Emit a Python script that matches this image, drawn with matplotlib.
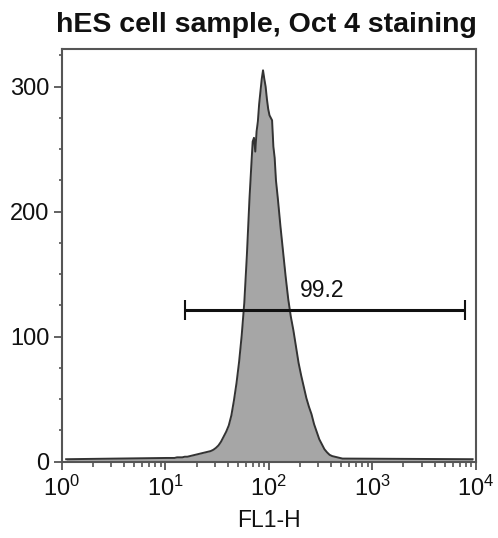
import matplotlib
matplotlib.use("Agg")
import matplotlib.pyplot as plt
from matplotlib.ticker import MultipleLocator, LogLocator, NullFormatter
import numpy as np

plt.rcParams['font.family'] = ['Liberation Sans', 'DejaVu Sans']
plt.rcParams['mathtext.fontset'] = 'custom'
plt.rcParams['mathtext.rm'] = 'Liberation Sans'
plt.rcParams['mathtext.it'] = 'Liberation Sans'

# histogram: bin edges (log10 of FL1-H) and counts
log_edges = [0.04, 1.0, 1.025, 1.05, 1.075, 1.1, 1.125, 1.15, 1.175, 1.2, 1.225,
             1.25, 1.275, 1.3, 1.325, 1.35, 1.375, 1.4, 1.425, 1.45, 1.475, 1.5,
             1.525, 1.55, 1.575, 1.6, 1.625, 1.65, 1.675, 1.7, 1.725, 1.75, 1.775,
             1.8, 1.825, 1.8375, 1.85, 1.8625, 1.875, 1.8875, 1.9, 1.9125, 1.925,
             1.9375, 1.95, 1.9625, 1.975, 1.9875, 2.0, 2.0125, 2.025, 2.0375, 2.05,
             2.0625, 2.075, 2.1, 2.125, 2.15, 2.175, 2.2, 2.225, 2.25, 2.275, 2.3,
             2.325, 2.35, 2.375, 2.4, 2.425, 2.45, 2.475, 2.5, 2.525, 2.55, 2.575,
             2.6, 2.625, 2.65, 2.675, 2.7, 2.725, 2.75, 3.97]
counts = [2,
          3, 3, 3, 3, 3.5, 3.5, 3.5, 4, 4, 4.5, 5, 5.5, 6, 6.5, 7, 7.5, 8, 8.5,
          9.5, 11, 13, 16, 20, 24, 29, 37, 49, 63, 80, 101, 127, 165, 210,
          238, 256, 259, 248, 264, 272, 286, 296, 306, 313, 306, 300, 290, 282,
          277, 275, 273, 252, 243, 225,
          210, 188, 168, 148, 130, 116, 105, 92, 79, 69, 60, 51, 44, 38, 30, 24,
          18, 14, 10, 7.5, 5.5, 4.5, 4, 3.5, 3, 2.5, 2.5,
          2]

gate_range = [15.6, 7870]
gate_y = 121
gate_label = "99.2"
gate_label_pos = [330, 137]

title = "hES cell sample, Oct 4 staining"
xlabel = "FL1-H"
yticks = [0, 100, 200, 300]

fig = plt.figure(figsize=(4.98, 5.38), dpi=100)
ax = fig.add_axes([0.1245, 0.1418, 0.8307, 0.7671])

le = np.array(log_edges)
centers = (le[:-1] + le[1:]) / 2
xs = np.concatenate([[le[0]], centers[1:-1], [le[-1]]])
ys = np.concatenate([[counts[0]], counts[1:-1], [counts[-1]]])
xv = 10 ** xs
ax.fill_between(xv, 0, ys, color='#a6a6a6', linewidth=0)
ax.plot(xv, ys, color='#333333', linewidth=1.4)

ax.hlines(gate_y, gate_range[0], gate_range[1], color='#111111', linewidth=2.2)
ax.vlines(gate_range, gate_y - 8, gate_y + 8, color='#111111', linewidth=1.5)
ax.text(gate_label_pos[0], gate_label_pos[1], gate_label, ha='center', va='center',
        fontsize=16.5, color='#111111')

ax.set_xscale('log')
ax.set_xlim(1, 1e4)
ax.set_ylim(0, 330)
ax.set_yticks(yticks)
ax.yaxis.set_minor_locator(MultipleLocator(25))
ax.xaxis.set_major_locator(LogLocator(base=10, numticks=10))
ax.xaxis.set_minor_locator(LogLocator(base=10, subs=np.arange(2, 10), numticks=10))
ax.xaxis.set_minor_formatter(NullFormatter())

for s in ax.spines.values():
    s.set_color('#555555')
    s.set_linewidth(1.5)

ax.tick_params(axis='both', which='major', direction='out', length=6, width=1.3,
               color='#555555', labelsize=17, labelcolor='#111111')
ax.tick_params(axis='x', which='major', pad=4)
ax.tick_params(axis='y', which='major', pad=3)
ax.tick_params(axis='x', which='minor', direction='out', length=3.5, width=1.2, color='#555555')
ax.tick_params(axis='y', which='minor', direction='out', length=2, width=1.2, color='#555555')

ax.set_xlabel(xlabel, fontsize=16.5, labelpad=6, color='#111111')
fig.text(0.535, 0.954, title, ha='center', va='center', fontsize=20.5,
         fontweight='bold', color='#111111')

fig.savefig('out.png', dpi=100)
